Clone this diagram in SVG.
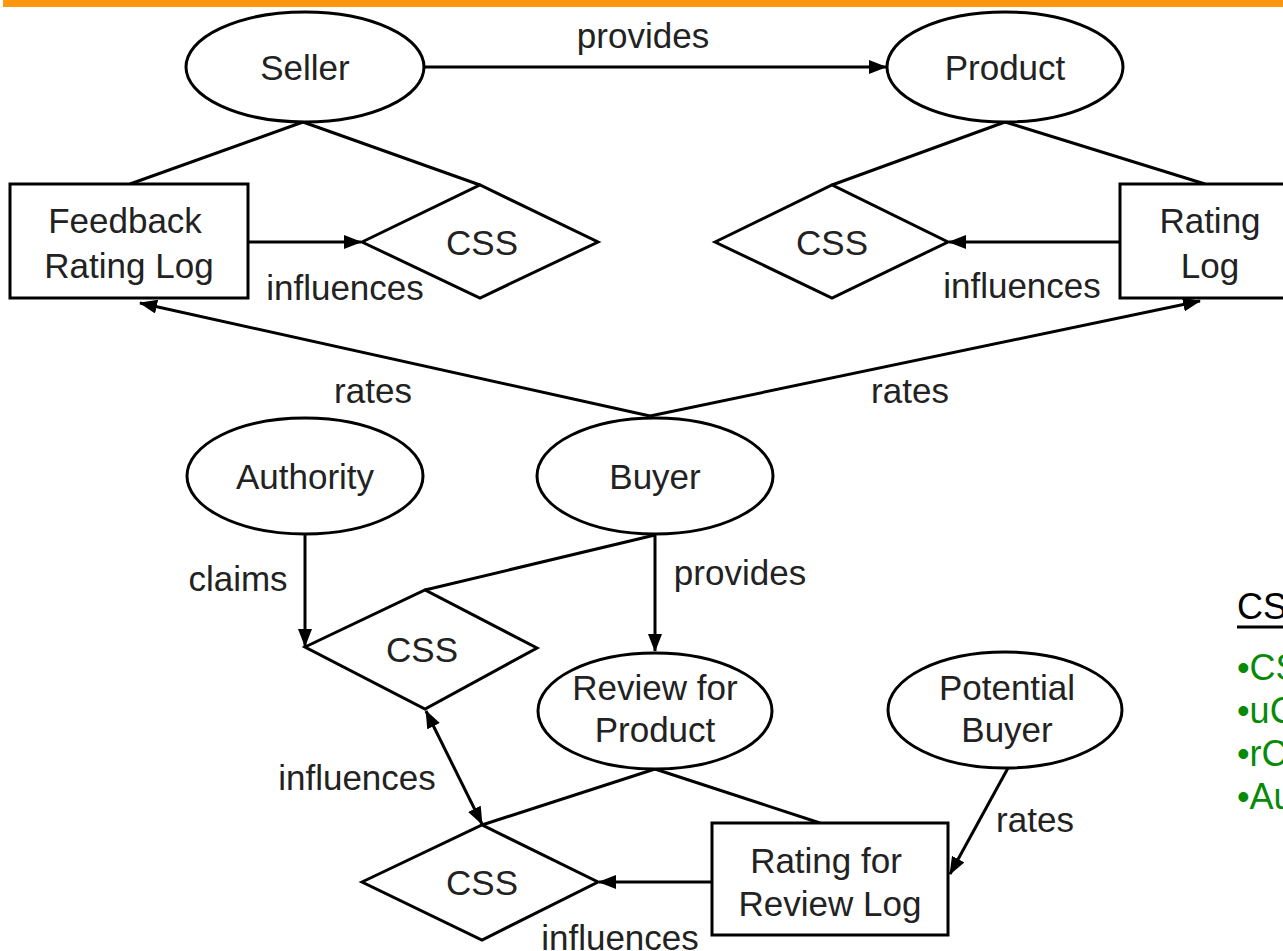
<svg xmlns="http://www.w3.org/2000/svg" width="1283" height="951" viewBox="0 0 1283 951">
  <defs>
    <marker id="arr" markerWidth="18" markerHeight="14" refX="17" refY="7" orient="auto-start-reverse" markerUnits="userSpaceOnUse">
      <path d="M0,0 L18,7 L0,14 z" fill="#000"/>
    </marker>
    <style>
      .shape { fill: #fff; stroke: #000; stroke-width: 3; }
      .line { fill: none; stroke: #000; stroke-width: 3; }
      .arrow { fill: none; stroke: #000; stroke-width: 3; marker-end: url(#arr); }
      .lbl { font-family: "Liberation Sans", Arial, sans-serif; font-size: 35px; fill: #222; text-anchor: middle; }
      .side { font-family: "Liberation Sans", Arial, sans-serif; font-size: 36px; }
    </style>
  </defs>
  <rect width="1283" height="951" fill="#fff"/>
  <rect x="3" y="0" width="1280" height="7" fill="#FF960F"/>

  <g id="connectors">
    <line class="arrow" x1="425" y1="67" x2="886" y2="67"/>
    <line class="line" x1="303" y1="122" x2="130" y2="184"/>
    <line class="line" x1="303" y1="122" x2="480" y2="185"/>
    <line class="line" x1="1005" y1="122" x2="832" y2="185"/>
    <line class="line" x1="1005" y1="122" x2="1205" y2="184"/>
    <line class="arrow" x1="248" y1="242" x2="361" y2="242"/>
    <line class="arrow" x1="1120" y1="242" x2="949" y2="242"/>
    <line class="arrow" x1="650" y1="416" x2="140" y2="303"/>
    <line class="arrow" x1="650" y1="416" x2="1200" y2="301"/>
    <line class="arrow" x1="305" y1="535" x2="305" y2="646"/>
    <line class="line" x1="655" y1="535" x2="425" y2="590"/>
    <line class="arrow" x1="655" y1="535" x2="655" y2="651"/>
    <line class="arrow" x1="426" y1="711" x2="482" y2="824" style="marker-start:url(#arr)"/>
    <line class="line" x1="655" y1="769" x2="482" y2="825"/>
    <line class="line" x1="655" y1="769" x2="820" y2="823"/>
    <line class="arrow" x1="1008" y1="768" x2="950" y2="874"/>
    <line class="arrow" x1="712" y1="882" x2="599" y2="882"/>
  </g>

  <g id="seller"><ellipse class="shape" cx="305" cy="67" rx="119" ry="55"/><text class="lbl" x="305" y="80">Seller</text></g>
  <g id="product"><ellipse class="shape" cx="1005" cy="67" rx="118" ry="55"/><text class="lbl" x="1005" y="80">Product</text></g>
  <g id="feedback-rating-log"><rect class="shape" x="10" y="184" width="238" height="114"/><text class="lbl" x="125" y="233">Feedback</text><text class="lbl" x="129" y="278">Rating Log</text></g>
  <g id="css1"><polygon class="shape" points="362,242 480,185 598,242 480,298"/><text class="lbl" x="482" y="255">CSS</text></g>
  <g id="css2"><polygon class="shape" points="715,242 832,185 948,242 832,298"/><text class="lbl" x="832" y="255">CSS</text></g>
  <g id="rating-log"><rect class="shape" x="1120" y="184" width="175" height="114"/><text class="lbl" x="1210" y="233">Rating</text><text class="lbl" x="1210" y="278">Log</text></g>
  <g id="authority"><ellipse class="shape" cx="305" cy="476" rx="118" ry="58"/><text class="lbl" x="305" y="489">Authority</text></g>
  <g id="buyer"><ellipse class="shape" cx="655" cy="476" rx="118" ry="58"/><text class="lbl" x="655" y="489">Buyer</text></g>
  <g id="css3"><polygon class="shape" points="305,647 425,590 537,648 425,709"/><text class="lbl" x="422" y="662">CSS</text></g>
  <g id="review-for-product"><ellipse class="shape" cx="655" cy="711" rx="117" ry="58"/><text class="lbl" x="655" y="700">Review for</text><text class="lbl" x="655" y="742">Product</text></g>
  <g id="potential-buyer"><ellipse class="shape" cx="1005" cy="710" rx="117" ry="58"/><text class="lbl" x="1007" y="700">Potential</text><text class="lbl" x="1007" y="742">Buyer</text></g>
  <g id="rating-for-review-log"><rect class="shape" x="712" y="823" width="236" height="112"/><text class="lbl" x="826" y="873">Rating for</text><text class="lbl" x="830" y="916">Review Log</text></g>
  <g id="css4"><polygon class="shape" points="362,882 482,825 598,882 482,940"/><text class="lbl" x="482" y="895">CSS</text></g>

  <g id="labels">
    <text class="lbl" x="643" y="48">provides</text>
    <text class="lbl" x="345" y="300">influences</text>
    <text class="lbl" x="1022" y="298">influences</text>
    <text class="lbl" x="373" y="403">rates</text>
    <text class="lbl" x="910" y="403">rates</text>
    <text class="lbl" x="238" y="591">claims</text>
    <text class="lbl" x="740" y="585">provides</text>
    <text class="lbl" x="357" y="790">influences</text>
    <text class="lbl" x="1035" y="832">rates</text>
    <text class="lbl" x="620" y="950">influences</text>
  </g>

  <g id="side-notes">
    <text class="side" x="1237" y="619" fill="#000">CS</text>
    <line x1="1237" y1="627" x2="1283" y2="627" stroke="#000" stroke-width="3"/>
    <text class="side" x="1237" y="680" fill="#078A07">•CS</text>
    <text class="side" x="1237" y="723" fill="#078A07">•uC</text>
    <text class="side" x="1237" y="766" fill="#078A07">•rC</text>
    <text class="side" x="1237" y="809" fill="#078A07">•Au</text>
  </g>
</svg>
